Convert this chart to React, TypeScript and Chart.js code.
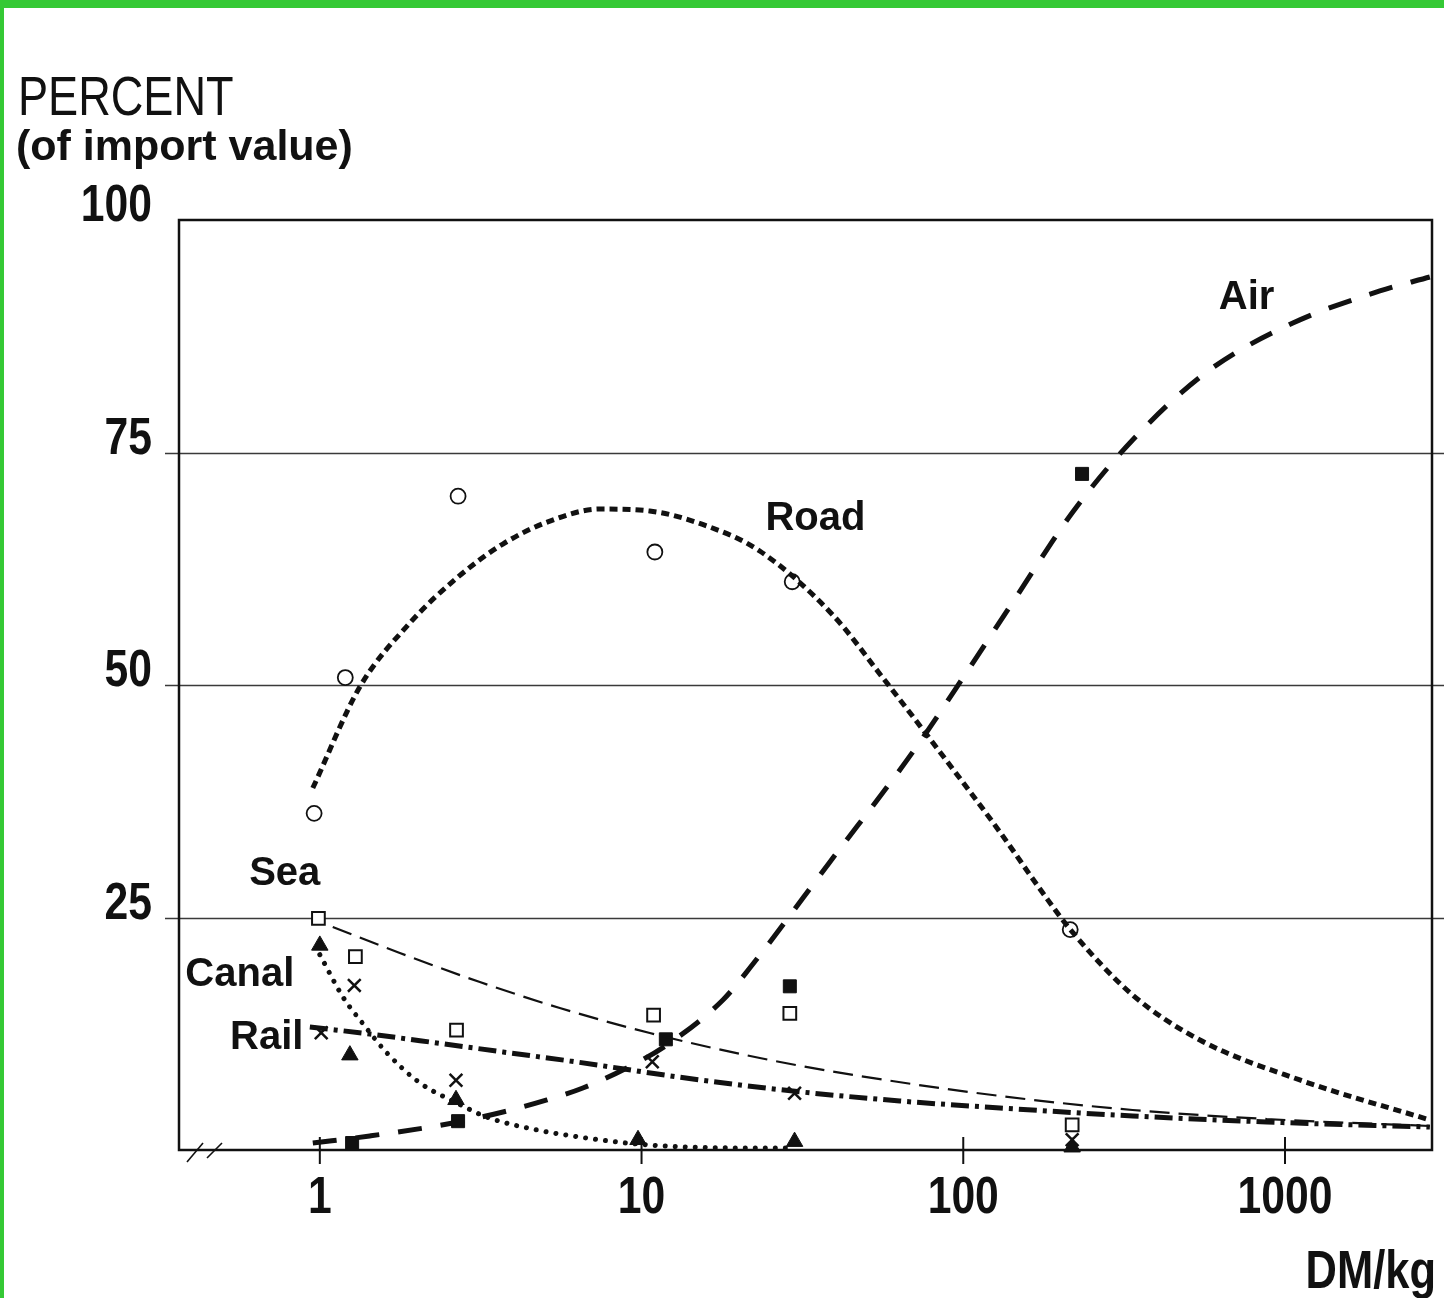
import React, { useEffect, useRef } from 'react';
import { Chart, registerables } from 'chart.js';

Chart.register(...registerables);

// ---------- tick values ----------
const xTickValues = [1, 10, 100, 1000];
const yTickValues = [25, 50, 75, 100];
const yGridValues = [25, 50, 75];

// ---------- Road (open circles, dotted heavy curve) ----------
const roadPointsX = [0.96, 1.2, 2.69, 11.0, 29.4, 215];
const roadPointsY = [36.2, 50.8, 70.3, 64.3, 61.1, 23.7];
const roadCurveX = [0.951, 1.331, 1.905, 2.667, 3.706, 5.19, 7.42, 10.6, 15.96, 23.3, 39.3, 56.3, 84.6, 130, 176.8, 214.5, 336, 544, 1112, 2820];
const roadCurveY = [38.92, 49.78, 56.67, 61.51, 65.16, 67.63, 68.92, 68.71, 67.1, 64.41, 57.53, 50.75, 42.8, 34.19, 27.63, 23.76, 16.67, 11.83, 7.53, 3.23];

// ---------- Air (filled squares, long dashes) ----------
const airPointsX = [1.26, 2.69, 11.9, 28.9, 234];
const airPointsY = [0.75, 3.1, 11.9, 17.6, 72.7];
const airCurveX = [0.951, 1.43, 2.59, 3.71, 5.08, 6.57, 9.0, 11.98, 17.9, 21.7, 38.5, 69.7, 102.6, 142.6, 219, 336, 571.7, 1058, 1972, 2820];
const airCurveY = [0.75, 1.51, 2.9, 4.09, 5.38, 6.67, 8.82, 11.29, 16.13, 19.57, 30.97, 42.8, 51.4, 58.92, 68.6, 76.34, 83.66, 88.92, 92.37, 93.87];

// ---------- Sea (open squares, thin dashes) ----------
const seaPointsX = [0.99, 1.29, 2.66, 10.9, 28.9, 218];
const seaPointsY = [24.9, 20.8, 12.9, 14.5, 14.7, 2.7];
const seaCurveX = [1.097, 1.773, 3.144, 5.57, 10.61, 23.32, 47.7, 130, 336, 878, 2820];
const seaCurveY = [23.98, 21.18, 18.06, 15.27, 12.58, 9.89, 7.96, 5.81, 4.3, 3.33, 2.58];

// ---------- Rail (crosses, dash-dot) ----------
const railPointsX = [1.01, 1.28, 2.65, 10.8, 29.9, 218];
const railPointsY = [12.6, 17.7, 7.5, 9.5, 6.1, 1.1];
const railCurveX = [0.931, 1.43, 2.31, 3.71, 5.99, 14.44, 29.5, 63.5, 130, 336, 878, 2820];
const railCurveY = [13.23, 12.47, 11.51, 10.54, 9.57, 7.63, 6.34, 5.27, 4.52, 3.66, 3.01, 2.47];

// ---------- Canal (filled triangles, round dots) ----------
const canalPointsX = [1.0, 1.24, 2.65, 9.75, 29.9, 218];
const canalPointsY = [22.0, 10.2, 5.4, 1.1, 0.9, 0.3];
const canalCurveX = [1.0, 1.18, 1.36, 1.62, 2.05, 2.67, 3.3, 4.73, 5.86, 9.0, 14.4, 28.9];
const canalCurveY = [21.0, 16.45, 13.6, 10.4, 7.2, 5.05, 3.55, 2.15, 1.6, 0.75, 0.3, 0.2];

// ---------- series labels (data units) ----------
const labelNames = ['Air', 'Road', 'Sea', 'Canal', 'Rail'];
const labelX = [760, 34.7, 0.778, 0.564, 0.684];
const labelY = [91.6, 67.8, 29.7, 18.8, 12.0];

const SANS = '"Liberation Sans", Arial, sans-serif';
const INK = '#111111';
const CONDENSE = 0.82;

const zip = (xs: number[], ys: number[]) => xs.map((x, i) => ({ x, y: ys[i] }));

function condensedText(ctx: any, text: string, x: number, y: number, font: string, align: string, baseline: string) {
  ctx.save();
  ctx.font = font;
  ctx.textAlign = align;
  ctx.textBaseline = baseline;
  ctx.translate(x, y);
  ctx.scale(CONDENSE, 1);
  ctx.fillText(text, 0, 0);
  ctx.restore();
}

const decorPlugin = {
  id: 'decor',
  beforeDatasetsDraw(chart: any) {
    const { ctx, chartArea: a, scales } = chart;
    const ys = scales.y;
    const xs = scales.x;
    ctx.save();
    // grid lines
    ctx.strokeStyle = '#3a3a3a';
    ctx.lineWidth = 1.3;
    yGridValues.forEach((v) => {
      const py = Math.round(ys.getPixelForValue(v)) + 0.5;
      ctx.beginPath();
      ctx.moveTo(a.left - 14, py);
      ctx.lineTo(chart.width, py);
      ctx.stroke();
    });
    // frame
    ctx.strokeStyle = INK;
    ctx.lineWidth = 2.5;
    ctx.strokeRect(a.left, a.top, a.right - a.left, a.bottom - a.top);
    // x ticks
    ctx.lineWidth = 2;
    xTickValues.forEach((v) => {
      const px = xs.getPixelForValue(v);
      ctx.beginPath();
      ctx.moveTo(px, a.bottom - 13);
      ctx.lineTo(px, a.bottom + 14);
      ctx.stroke();
    });
    // axis break marks
    ctx.lineWidth = 1.6;
    [[8, 12, 24, -7], [28, 8, 43, -7]].forEach(([x1, y1, x2, y2]) => {
      ctx.beginPath();
      ctx.moveTo(a.left + x1, a.bottom + y1);
      ctx.lineTo(a.left + x2, a.bottom + y2);
      ctx.stroke();
    });
    ctx.restore();
  },
  afterDraw(chart: any) {
    const { ctx, chartArea: a, scales } = chart;
    ctx.save();
    ctx.fillStyle = INK;
    // tick labels (condensed)
    const tickFont = `bold 52px ${SANS}`;
    scales.y.ticks.forEach((t: any) => {
      condensedText(ctx, String(t.value), a.left - 27, scales.y.getPixelForValue(t.value) - 13, tickFont, 'right', 'middle');
    });
    scales.x.ticks.forEach((t: any) => {
      condensedText(ctx, String(t.value), scales.x.getPixelForValue(t.value), a.bottom + 49, tickFont, 'center', 'middle');
    });
    // series labels
    ctx.font = `bold 40px ${SANS}`;
    ctx.textAlign = 'center';
    ctx.textBaseline = 'middle';
    labelNames.forEach((n, i) => {
      ctx.fillText(n, scales.x.getPixelForValue(labelX[i]), scales.y.getPixelForValue(labelY[i]));
    });
    // axis titles
    condensedText(ctx, 'PERCENT', 14, 107, `55px ${SANS}`, 'left', 'alphabetic');
    ctx.textBaseline = 'alphabetic';
    ctx.textAlign = 'left';
    ctx.font = `bold 43px ${SANS}`;
    ctx.fillText('(of import value)', 12, 152);
    condensedText(ctx, 'DM/kg', 1432, 1280, `bold 53px ${SANS}`, 'right', 'alphabetic');
    ctx.restore();
  },
};

export default function App() {
  const ref = useRef<HTMLCanvasElement | null>(null);

  useEffect(() => {
    if (!ref.current) return;
    const lineDs = (label: string, xs: number[], ys: number[], extra: any) => ({
      type: 'line',
      label,
      data: zip(xs, ys),
      showLine: true,
      pointRadius: 0,
      borderColor: INK,
      backgroundColor: INK,
      fill: false,
      cubicInterpolationMode: 'monotone',
      clip: false,
      ...extra,
    });
    const markDs = (label: string, xs: number[], ys: number[], extra: any) => ({
      type: 'scatter',
      label,
      data: zip(xs, ys),
      showLine: false,
      borderColor: INK,
      clip: false,
      ...extra,
    });

    const chart = new Chart(ref.current, {
      type: 'scatter',
      data: {
        datasets: [
          lineDs('Road curve', roadCurveX, roadCurveY, { borderWidth: 5, borderDash: [8, 5] }),
          lineDs('Air curve', airCurveX, airCurveY, { borderWidth: 5, borderDash: [24, 19] }),
          lineDs('Sea curve', seaCurveX, seaCurveY, { borderWidth: 2.2, borderDash: [20, 9] }),
          lineDs('Rail curve', railCurveX, railCurveY, { borderWidth: 5, borderDash: [18, 6, 4, 6] }),
          lineDs('Canal curve', canalCurveX, canalCurveY, { borderWidth: 5, borderDash: [0.01, 10], borderCapStyle: 'round' }),
          markDs('Road', roadPointsX, roadPointsY, { pointStyle: 'circle', pointRadius: 7.5, borderWidth: 1.8, backgroundColor: '#fff' }),
          markDs('Sea', seaPointsX, seaPointsY, { pointStyle: 'rect', pointRadius: 9, borderWidth: 2, backgroundColor: '#fff' }),
          markDs('Rail', railPointsX, railPointsY, { pointStyle: 'crossRot', pointRadius: 9, borderWidth: 2.5 }),
          markDs('Canal', canalPointsX, canalPointsY, { pointStyle: 'triangle', pointRadius: 9.5, borderWidth: 1, backgroundColor: INK }),
          markDs('Air', airPointsX, airPointsY, { pointStyle: 'rect', pointRadius: 9.2, borderWidth: 1, backgroundColor: INK }),
        ] as any,
      },
      options: {
        animation: false,
        responsive: false,
        maintainAspectRatio: false,
        layout: { padding: { top: 212, right: 12, left: 0, bottom: 0 } },
        plugins: { legend: { display: false }, tooltip: { enabled: false } },
        elements: { point: { hoverRadius: 0 } },
        scales: {
          x: {
            type: 'logarithmic',
            position: 'bottom',
            min: 0.365,
            max: 2864,
            afterBuildTicks: (s: any) => {
              s.ticks = xTickValues.map((v) => ({ value: v }));
            },
            afterFit: (s: any) => {
              s.height = 148;
            },
            grid: { display: false, drawTicks: false },
            border: { display: false },
            ticks: { display: false },
          },
          y: {
            type: 'linear',
            min: 0,
            max: 100,
            afterBuildTicks: (s: any) => {
              s.ticks = yTickValues.map((v) => ({ value: v }));
            },
            afterFit: (s: any) => {
              s.width = 175;
            },
            grid: { display: false, drawTicks: false },
            border: { display: false },
            ticks: { display: false },
          },
        },
      } as any,
      plugins: [decorPlugin],
    });
    return () => chart.destroy();
  }, []);

  return (
    <div
      style={{
        position: 'absolute',
        left: 0,
        top: 0,
        width: 1444,
        height: 1298,
        boxSizing: 'border-box',
        borderTop: '8px solid #35c935',
        borderLeft: '4px solid #35c935',
        background: '#ffffff',
        overflow: 'hidden',
      }}
    >
      <canvas ref={ref} width={1440} height={1290} style={{ display: 'block', width: 1440, height: 1290 }} />
    </div>
  );
}
